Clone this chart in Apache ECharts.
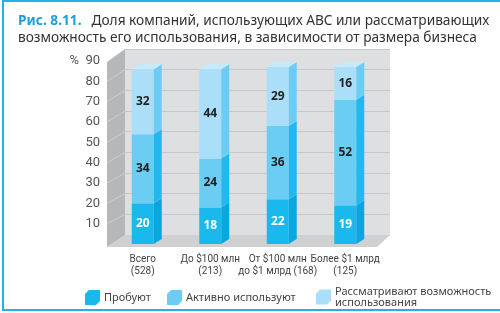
<!DOCTYPE html>
<html>
<head>
<meta charset="utf-8">
<script src="https://cdn.jsdelivr.net/npm/echarts@6/dist/echarts.min.js"></script>
<style>
  html, body { margin: 0; padding: 0; background: #fff; }
  #chart { width: 500px; height: 313px; }
</style>
</head>
<body>
<div id="chart"></div>
<script>
// DATA
var categories = ['Всего\n(528)', 'До $100 млн\n(213)', 'От $100 млн\nдо $1 млрд (168)', 'Более $1 млрд\n(125)'];
var seriesNames = ['Пробуют', 'Активно используют', 'Рассматривают возможность\nиспользования'];
var trying = [20, 18, 22, 19];
var activeUse = [34, 24, 36, 52];
var considering = [32, 44, 29, 16];
var yMax = 90;
var yStep = 10;

// colours: front, side, top for every stack level
var faces = [
  { front: '#19b9ee', side: '#0aa6df', top: '#45c8f3', label: '#ffffff' },
  { front: '#6ccdf4', side: '#20b8ee', top: '#8fd8f7', label: '#222222' },
  { front: '#abdff9', side: '#6ccdf4', top: '#c6eafb', label: '#222222' }
];

var narrow = 'Roboto, sans-serif';

// layout of the front plane and the back wall
var FL = 109, FR = 121, FT = 61, FB = 69;
var BL = 125, BR = 110, BT = 49, BB = 78;
var DX = 8, DY = 5, BAR_W = 22;

var chartDom = document.getElementById('chart');
var myChart = echarts.init(chartDom);

function makeStack(levels) {
  var out = [];
  var base = categories.map(function () { return 0; });
  levels.forEach(function (vals) {
    var d = [];
    vals.forEach(function (v, i) {
      d.push([i, base[i], base[i] + v, v]);
      base[i] += v;
    });
    out.push(d);
  });
  return out;
}
var stacked = makeStack([trying, activeUse, considering]);

function renderBar(level, isTop) {
  return function (params, api) {
    var i = api.value(0);
    var lo = api.coord([i, api.value(1)]);
    var hi = api.coord([i, api.value(2)]);
    var x0 = lo[0] - BAR_W / 2, x1 = x0 + BAR_W;
    var f = faces[level];
    var children = [
      { type: 'rect', shape: { x: x0, y: hi[1], width: BAR_W, height: lo[1] - hi[1] }, style: { fill: f.front } },
      { type: 'polygon', shape: { points: [[x1, lo[1]], [x1, hi[1]], [x1 + DX, hi[1] - DY], [x1 + DX, lo[1] - DY]] }, style: { fill: f.side } }
    ];
    if (isTop) {
      children.push({ type: 'polygon', shape: { points: [[x0, hi[1]], [x0 + DX, hi[1] - DY], [x1 + DX, hi[1] - DY], [x1, hi[1]]] }, style: { fill: f.top } });
    }
    children.push({
      type: 'text',
      style: {
        text: String(api.value(3)), x: lo[0], y: (lo[1] + hi[1]) / 2,
        align: 'center', verticalAlign: 'middle',
        fill: f.label, font: 'bold 12px "Noto Sans", sans-serif'
      }
    });
    return { type: 'group', children: children };
  };
}

var option = {
  animation: false,
  backgroundColor: '#ffffff',
  title: {
    left: 13,
    top: 7,
    text: '{a|Рис. 8.11.}  {b|Доля компаний, использующих ABC или рассматривающих}\n{b|возможность его использования, в зависимости от размера бизнеса}',
    textStyle: {
      rich: {
        a: { fontFamily: 'Noto Sans', fontSize: 13.7, fontWeight: 'bold', color: '#1c9fd9', lineHeight: 17 },
        b: { fontFamily: 'Noto Sans', fontSize: 13.7, fontWeight: 'normal', color: '#333333', lineHeight: 17 }
      }
    }
  },
  legend: [0, 1, 2].map(function (k) {
    var lefts = [80, 162, 311];
    return {
      data: [seriesNames[k]],
      left: lefts[k],
      top: k === 2 ? 281 : 285,
      itemWidth: 15,
      itemHeight: 15,
      itemGap: 4,
      icon: 'path://M0,4L4,0L15,0L15,11L11,15L0,15Z',
      selectedMode: false,
      textStyle: { fontFamily: 'Noto Sans', fontSize: 11, color: '#444444', lineHeight: 11, padding: [0, 0, 0, -1] }
    };
  }),
  grid: [
    { left: FL, right: FR, top: FT, bottom: FB, containLabel: false },
    { left: BL, right: BR, top: BT, bottom: BB, show: true, backgroundColor: '#dedfe1', borderWidth: 0, z: 0 }
  ],
  xAxis: [
    {
      type: 'category', gridIndex: 0, data: categories,
      axisLine: { show: false }, axisTick: { show: false },
      axisLabel: { interval: 0, margin: 9, fontFamily: narrow, fontSize: 10, lineHeight: 12, color: '#444444' }
    },
    { type: 'category', gridIndex: 1, data: categories, show: false }
  ],
  yAxis: [
    {
      type: 'value', gridIndex: 0, min: 0, max: yMax, interval: yStep,
      axisLine: { show: false }, axisTick: { show: false }, splitLine: { show: false },
      axisLabel: {
        margin: 9, fontFamily: narrow, fontSize: 13, color: '#555555',
        formatter: function (v) { return v === 0 ? '' : (v === yMax ? '%  ' + v : String(v)); }
      }
    },
    {
      type: 'value', gridIndex: 1, min: 0, max: yMax, interval: yStep,
      axisLine: { show: false }, axisTick: { show: false }, axisLabel: { show: false },
      splitLine: { show: true, lineStyle: { color: '#c7c8ca', width: 1 } }
    }
  ],
  series: stacked.map(function (d, k) {
    return {
      name: seriesNames[k],
      type: 'custom',
      xAxisIndex: 0, yAxisIndex: 0,
      z: 5,
      itemStyle: { color: faces[k].front },
      renderItem: renderBar(k, k === stacked.length - 1),
      data: d
    };
  })
};

myChart.setOption(option);

// walls and floor, placed through the axes' own scales
var yF = function (v) { return myChart.convertToPixel({ yAxisIndex: 0 }, v); };
var yB = function (v) { return myChart.convertToPixel({ yAxisIndex: 1 }, v); };
var wallX0 = FL - 2, wallX1 = BL;
var floorFront = yF(0) + 3;
var frontRight = 500 - FR - 2, backRight = 500 - BR;
var deco = [
  { type: 'polygon', z: 1, shape: { points: [[wallX0, floorFront], [wallX1, yB(0)], [backRight, yB(0)], [frontRight, floorFront]] }, style: { fill: '#cfd0d2' } },
  { type: 'polygon', z: 1, shape: { points: [[wallX0, yF(yMax) + 1], [wallX1, yB(yMax)], [wallX1, yB(0)], [wallX0, floorFront]] }, style: { fill: '#b6b7b9' } }
];
for (var v = yStep; v < yMax; v += yStep) {
  deco.push({ type: 'line', z: 1, shape: { x1: wallX0, y1: yF(v), x2: wallX1, y2: yB(v) }, style: { stroke: '#cdced0', lineWidth: 1 } });
}
// blue frame of the figure
deco.push({ type: 'rect', z: 10, shape: { x: 2, y: 0, width: 498, height: 2 }, style: { fill: '#22b1e8' } });
deco.push({ type: 'rect', z: 10, shape: { x: 2, y: 0, width: 2, height: 311 }, style: { fill: '#22b1e8' } });
deco.push({ type: 'rect', z: 10, shape: { x: 2, y: 309, width: 498, height: 2 }, style: { fill: '#22b1e8' } });

myChart.setOption({ graphic: deco });
</script>
</body>
</html>
